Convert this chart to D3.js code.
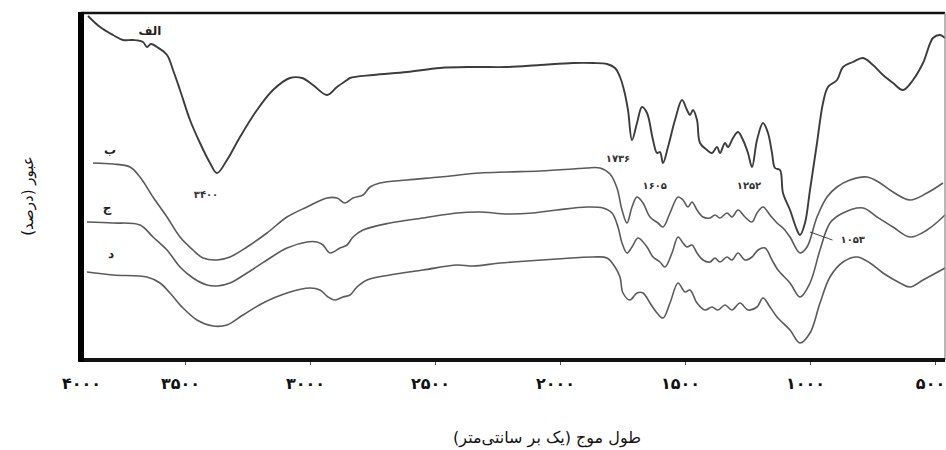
<!DOCTYPE html>
<html><head><meta charset="utf-8">
<script src="https://cdn.jsdelivr.net/npm/d3@7"></script>
<style>html,body{margin:0;padding:0;background:#fff;}svg{display:block;}</style>
</head><body>
<svg id="chart" width="946" height="450"></svg>
<script>
// ---- data (wavenumber cm-1, relative transmittance a.u.) ----
const seriesNames = ["الف", "ب", "ج", "د"];
const wnA = [3888,3840,3788,3748,3708,3668,3652,3636,3612,3572,3548,3520,3480,3440,3400,3372,3332,3280,3212,3148,3080,3032,2988,2932,2892,2852,2840,2748,2612,2480,2348,2212,2080,1948,1868,1812,1780,1760,1744,1728,1712,1692,1672,1652,1628,1612,1600,1588,1568,1540,1512,1492,1480,1468,1452,1440,1412,1392,1372,1360,1340,1328,1308,1288,1268,1248,1232,1212,1188,1168,1152,1140,1120,1108,1080,1052,1040,1020,1000,972,948,928,892,868,828,788,748,708,668,628,588,548,508,480,460];
const tA  = [344,333,325,320,320,318,313,316,313,305,290,270,240,217,197,187,200,223,250,270,282,282,275,265,273,280,282,285,288,292,293,293,295,297,297,296,292,283,270,250,220,237,253,247,220,207,208,197,213,240,260,250,245,250,240,217,210,207,213,207,217,213,222,228,220,207,193,220,237,227,207,192,190,167,150,130,125,137,170,217,257,273,280,293,298,302,295,285,277,270,280,297,322,325,322];
const wnB = [3868,3788,3720,3680,3628,3572,3520,3468,3428,3372,3320,3252,3172,3092,3012,2932,2892,2860,2828,2788,2760,2720,2612,2480,2320,2212,2080,1948,1892,1840,1800,1772,1752,1732,1712,1692,1668,1640,1608,1588,1560,1528,1508,1488,1472,1452,1428,1400,1380,1360,1332,1312,1288,1260,1232,1212,1188,1160,1132,1108,1080,1040,1012,972,932,892,840,772,720,668,600,532,468];
const tB  = [197,196,193,183,163,143,123,110,102,100,103,113,127,143,153,162,162,157,162,165,173,177,180,183,187,188,189,191,192,192,186,172,150,137,153,163,157,143,137,133,147,163,160,153,158,150,143,142,145,142,147,143,150,143,138,147,153,145,137,132,123,107,113,143,163,173,180,183,177,168,160,167,177];
const wnC = [3892,3788,3680,3628,3572,3520,3468,3412,3372,3320,3252,3172,3092,3012,2972,2948,2920,2880,2852,2828,2788,2680,2548,2412,2320,2212,2108,2012,1892,1828,1792,1768,1752,1732,1712,1688,1652,1628,1600,1580,1552,1528,1508,1492,1472,1452,1428,1400,1380,1360,1332,1312,1288,1260,1232,1208,1180,1152,1128,1080,1040,1000,960,920,868,788,732,668,600,532,460];
const tC  = [138,137,135,123,110,93,82,75,74,77,87,100,112,118,118,115,107,112,115,123,130,137,142,147,148,146,147,150,153,152,147,133,117,107,113,122,113,103,98,93,107,123,117,113,115,107,100,98,102,98,103,100,107,100,103,110,112,100,90,77,63,77,110,137,147,152,143,133,123,130,145];
const wnD = [3892,3788,3652,3600,3560,3508,3452,3388,3332,3268,3188,3092,3000,2960,2928,2900,2868,2840,2812,2772,2680,2548,2412,2348,2240,2132,2012,1868,1812,1780,1760,1748,1720,1692,1668,1640,1612,1588,1560,1528,1500,1480,1452,1420,1392,1368,1340,1312,1280,1248,1212,1188,1160,1132,1080,1040,1000,960,920,868,812,760,708,640,600,548,460];
const tD  = [88,85,83,77,67,52,40,34,35,45,57,67,72,70,63,60,63,65,73,80,85,90,95,94,97,99,101,103,102,93,83,67,60,67,67,57,47,42,57,77,68,70,57,50,53,50,55,50,57,50,53,62,53,43,30,17,27,57,83,98,103,97,87,77,73,80,92];

const tickValues = [4000, 3500, 3000, 2500, 2000, 1500, 1000, 500];
const tickLabels = ["۴۰۰۰", "۳۵۰۰", "۳۰۰۰", "۲۵۰۰", "۲۰۰۰", "۱۵۰۰", "۱۰۰۰", "۵۰۰"];

const peakWn = [3400, 1736, 1605, 1252, 1053];
const peakLabels = ["۳۴۰۰", "۱۷۳۶", "۱۶۰۵", "۱۲۵۲", "۱۰۵۳"];

const xTitle = "طول موج (یک بر سانتی‌متر)";
const yTitle = "عبور (درصد)";

// ---- drawing ----
const svg = d3.select("#chart");
const frame = {left: 81, right: 945, top: 13, bottom: 360};
const x = d3.scaleLinear().domain([4000, 500]).range([60, 935]);
const y = d3.scaleLinear().domain([0, 350]).range([360, 10]);

svg.append("defs").append("clipPath").attr("id", "clip")
  .append("rect").attr("x", frame.left).attr("y", frame.top)
  .attr("width", frame.right - frame.left).attr("height", frame.bottom - frame.top);

const series = [
  {wn: wnA, t: tA, color: "#3c3c3c", w: 1.9},
  {wn: wnB, t: tB, color: "#5a5a5a", w: 1.6},
  {wn: wnC, t: tC, color: "#5a5a5a", w: 1.6},
  {wn: wnD, t: tD, color: "#5a5a5a", w: 1.6}
];
const line = d3.line().x(d => x(d[0])).y(d => y(d[1])).curve(d3.curveCatmullRom.alpha(0.5));
const g = svg.append("g").attr("clip-path", "url(#clip)");
series.forEach(s => {
  g.append("path").datum(s.wn.map((v, i) => [v, s.t[i]]))
    .attr("d", line).attr("fill", "none")
    .attr("stroke", s.color).attr("stroke-width", s.w).attr("stroke-linejoin", "round");
});

// frame
svg.append("line").attr("x1", frame.left).attr("x2", frame.right).attr("y1", frame.top).attr("y2", frame.top)
  .attr("stroke", "#111").attr("stroke-width", 2.5);
svg.append("line").attr("x1", frame.right).attr("x2", frame.right).attr("y1", frame.top).attr("y2", frame.bottom)
  .attr("stroke", "#888").attr("stroke-width", 1.2);
svg.append("line").attr("x1", frame.left - 3).attr("x2", frame.right).attr("y1", frame.bottom).attr("y2", frame.bottom)
  .attr("stroke", "#111").attr("stroke-width", 4);
svg.append("line").attr("x1", frame.left).attr("x2", frame.left).attr("y1", frame.top - 1).attr("y2", frame.bottom + 2)
  .attr("stroke", "#000").attr("stroke-width", 6);

// x axis
const axis = d3.axisBottom(x).tickValues(tickValues).tickSize(3).tickPadding(13)
  .tickFormat((d, i) => tickLabels[i]);
const ax = svg.append("g").attr("transform", `translate(0,${frame.bottom + 2})`).call(axis);
ax.select(".domain").remove();
ax.selectAll(".tick line").attr("stroke", "#555").attr("stroke-width", 1)
  .style("display", d => x(d) < frame.left ? "none" : null);
ax.selectAll(".tick text").attr("font-family", "DejaVu Sans").attr("font-size", 16)
  .attr("font-weight", "bold").attr("fill", "#111")
  .attr("x", d => x(d) < frame.left ? frame.left - x(d) : -5);

// titles
svg.append("text").attr("x", 547).attr("y", 443).attr("text-anchor", "middle")
  .attr("font-family", "DejaVu Sans").attr("font-size", 16).attr("fill", "#111").text(xTitle);
svg.append("text").attr("transform", "translate(33,196) rotate(-90)").attr("text-anchor", "middle")
  .attr("font-family", "DejaVu Sans").attr("font-size", 15).attr("fill", "#111").text(yTitle);

// series labels
const labelPos = [[150, 35], [110, 154], [107, 212], [111, 258]];
seriesNames.forEach((n, i) => {
  svg.append("text").attr("x", labelPos[i][0]).attr("y", labelPos[i][1]).attr("text-anchor", "middle")
    .attr("font-family", "DejaVu Sans").attr("font-size", 12).attr("font-weight", "bold")
    .attr("fill", "#222").text(n);
});

// peak annotations
const peakY = [tA[15], tA[40], tA[47], tA[66], tB[61]];
const peakDx = [-4, -8, -4, 2, 56];
const peakDy = [25, 22, 26, 22, -10];
peakWn.forEach((w, i) => {
  svg.append("text").attr("x", x(w) + peakDx[i]).attr("y", y(peakY[i]) + peakDy[i])
    .attr("text-anchor", "middle").attr("font-family", "DejaVu Sans").attr("font-size", 10)
    .attr("font-weight", "bold").attr("fill", "#333").text(peakLabels[i]);
});
// leader line for 1053
svg.append("line").attr("x1", x(1000)).attr("y1", y(128)).attr("x2", x(910)).attr("y2", y(120))
  .attr("stroke", "#444").attr("stroke-width", 1);
</script>
</body></html>
